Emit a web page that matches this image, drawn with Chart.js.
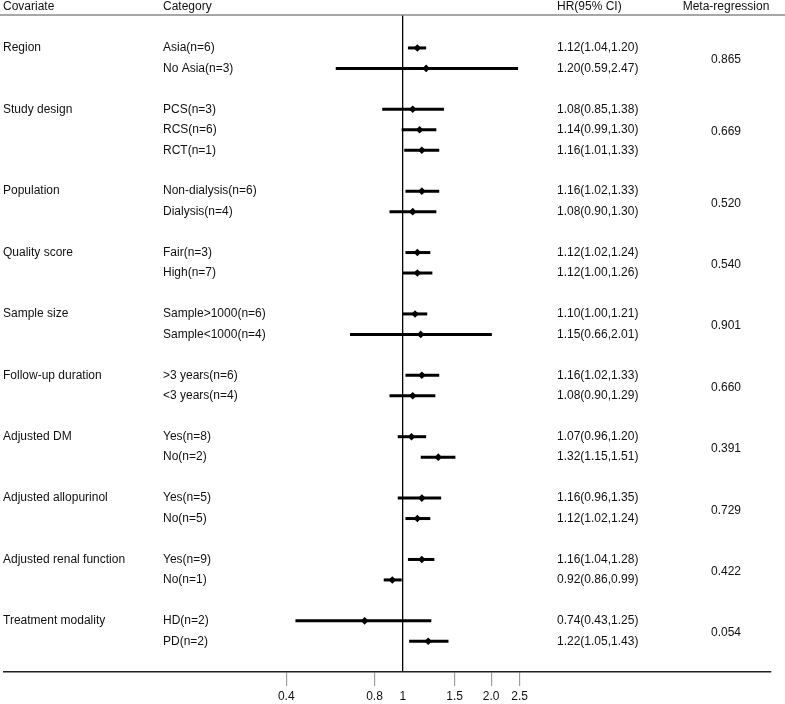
<!DOCTYPE html>
<html lang="en">
  <head>
    <meta charset="UTF-8" />
    <title>Forest plot - subgroup meta-regression</title>
    <script src="https://cdn.jsdelivr.net/npm/chart.js"></script>
    <style>
      html, body { margin: 0; padding: 0; background: #fff; }
      #chartContainer { width: 785px; height: 704px; }
    </style>
  </head>
  <body>
    <div id="chartContainer">
      <canvas id="forestChart" width="785" height="704"></canvas>
    </div>
    <script>
      // covariate groups and the number of categories in each
      const covariates = ["Region", "Study design", "Population", "Quality score", "Sample size",
        "Follow-up duration", "Adjusted DM", "Adjusted allopurinol", "Adjusted renal function", "Treatment modality"];
      const groupSizes = [2, 3, 2, 2, 2, 2, 2, 2, 2, 2];
      const metaP = ["0.865", "0.669", "0.520", "0.540", "0.901", "0.660", "0.391", "0.729", "0.422", "0.054"];

      const categories = ["Asia(n=6)", "No Asia(n=3)", "PCS(n=3)", "RCS(n=6)", "RCT(n=1)",
        "Non-dialysis(n=6)", "Dialysis(n=4)", "Fair(n=3)", "High(n=7)",
        "Sample>1000(n=6)", "Sample<1000(n=4)", ">3 years(n=6)", "<3 years(n=4)",
        "Yes(n=8)", "No(n=2)", "Yes(n=5)", "No(n=5)", "Yes(n=9)", "No(n=1)", "HD(n=2)", "PD(n=2)"];
      const hr    = [1.12, 1.20, 1.08, 1.14, 1.16, 1.16, 1.08, 1.12, 1.12, 1.10, 1.15, 1.16, 1.08, 1.07, 1.32, 1.16, 1.12, 1.16, 0.92, 0.74, 1.22];
      const lower = [1.04, 0.59, 0.85, 0.99, 1.01, 1.02, 0.90, 1.02, 1.00, 1.00, 0.66, 1.02, 0.90, 0.96, 1.15, 0.96, 1.02, 1.04, 0.86, 0.43, 1.05];
      const upper = [1.20, 2.47, 1.38, 1.30, 1.33, 1.33, 1.30, 1.24, 1.26, 1.21, 2.01, 1.33, 1.29, 1.20, 1.51, 1.35, 1.24, 1.28, 0.99, 1.25, 1.43];

      const tickValues = [0.4, 0.8, 1, 1.5, 2, 2.5];
      const tickLabels = ["0.4", "0.8", "1", "1.5", "2.0", "2.5"];

      // row index of each category: groups separated by one empty row
      const rowIndex = [];
      const groupStart = [];
      let r = 0;
      groupSizes.forEach(function (n) {
        groupStart.push(r);
        for (let k = 0; k < n; k++) rowIndex.push(r + k);
        r += n + 1;
      });

      const fmt = (v) => v.toFixed(2);
      const FONT = '12px "Liberation Sans", Arial, sans-serif';

      const ciDatasets = categories.map(function (c, i) {
        return {
          type: "line",
          label: c,
          data: [{ x: lower[i], y: rowIndex[i] }, { x: upper[i], y: rowIndex[i] }],
          borderColor: "#000",
          borderWidth: 3,
          pointRadius: 0,
          order: 2,
        };
      });

      const pointDataset = {
        type: "scatter",
        label: "HR",
        data: hr.map((v, i) => ({ x: v, y: rowIndex[i] })),
        pointStyle: "rectRot",
        pointRadius: 3.8,
        backgroundColor: "#000",
        borderColor: "#000",
        borderWidth: 0,
        order: 1,
      };

      const textPlugin = {
        id: "forestText",
        afterDraw(chart) {
          const ctx = chart.ctx;
          const ys = chart.scales.y;
          const area = chart.chartArea;
          ctx.save();

          // header rule
          ctx.strokeStyle = "#8a8a8a";
          ctx.lineWidth = 1.5;
          ctx.beginPath();
          ctx.moveTo(0, area.top);
          ctx.lineTo(chart.width, area.top);
          ctx.stroke();

          ctx.fillStyle = "#111";
          ctx.font = FONT;
          ctx.textBaseline = "middle";
          ctx.textAlign = "left";
          ctx.fillText("Covariate", 3, 7);
          ctx.fillText("Category", 163, 7);
          ctx.fillText("HR(95% CI)", 557, 7);
          ctx.textAlign = "center";
          ctx.fillText("Meta-regression", 726, 7);

          ctx.textAlign = "left";
          categories.forEach(function (c, i) {
            const py = ys.getPixelForValue(rowIndex[i]);
            ctx.fillText(c, 163, py);
            ctx.fillText(fmt(hr[i]) + "(" + fmt(lower[i]) + "," + fmt(upper[i]) + ")", 557, py);
          });

          covariates.forEach(function (c, g) {
            ctx.textAlign = "left";
            ctx.fillText(c, 3, ys.getPixelForValue(groupStart[g]));
            const mid = groupStart[g] + (groupSizes[g] - 1) / 2;
            ctx.textAlign = "center";
            ctx.fillText(metaP[g], 726, ys.getPixelForValue(mid) + 2);
          });

          ctx.restore();
        },
      };

      document.addEventListener("DOMContentLoaded", function () {
        const ctx = document.getElementById("forestChart").getContext("2d");

        new Chart(ctx, {
          data: { datasets: ciDatasets.concat([pointDataset]) },
          options: {
            responsive: false,
            animation: false,
            layout: { padding: { top: 15, left: 0, right: 14, bottom: 0 } },
            plugins: { legend: { display: false }, tooltip: { enabled: false } },
            scales: {
              x: {
                type: "logarithmic",
                position: "bottom",
                min: 0.0436,
                max: 18,
                afterBuildTicks: function (scale) {
                  scale.ticks = tickValues.map((v) => ({ value: v }));
                },
                afterFit: function (scale) {
                  scale.height = 32;
                },
                ticks: {
                  autoSkip: false,
                  maxRotation: 0,
                  padding: 3,
                  color: "#111",
                  font: { family: '"Liberation Sans", Arial, sans-serif', size: 12 },
                  callback: function (value) {
                    const k = tickValues.indexOf(value);
                    return k >= 0 ? tickLabels[k] : "";
                  },
                },
                grid: {
                  drawOnChartArea: true,
                  tickLength: 14,
                  lineWidth: 1.3,
                  color: (c) => (c.tick && c.tick.value === 1 ? "#000" : "rgba(0,0,0,0)"),
                  tickColor: (c) => (c.tick && c.tick.value === 1 ? "rgba(0,0,0,0)" : "#8c8c8c"),
                  tickWidth: 1,
                },
                border: { display: true, color: "#222", width: 1.5 },
              },
              y: {
                type: "linear",
                reverse: true,
                min: -1.61,
                max: 30.5,
                display: false,
              },
            },
          },
          plugins: [textPlugin],
        });
      });
    </script>
  </body>
</html>
